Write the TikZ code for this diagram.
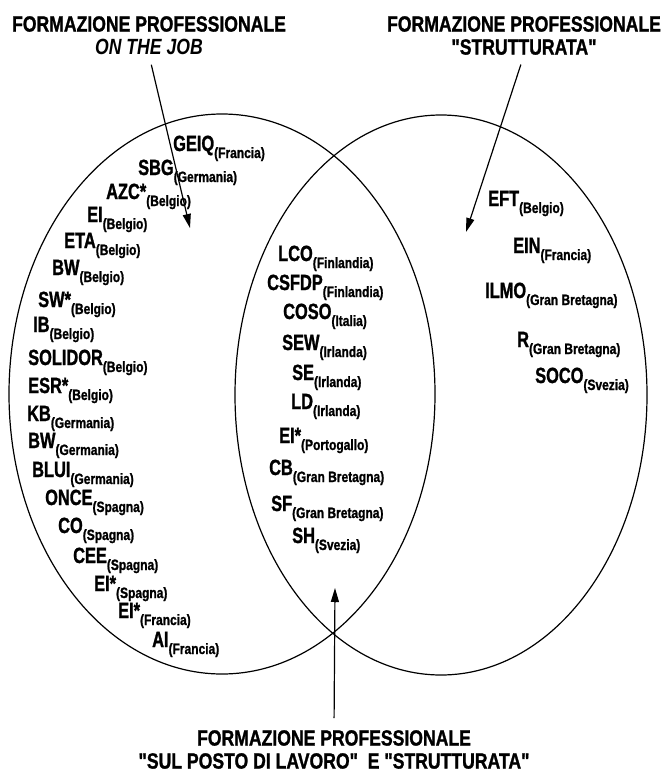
\documentclass[tikz,border=0pt]{standalone}
\usepackage{fontspec}
\setmainfont{Liberation Sans}[FakeStretch=0.8,Ligatures=TeXOff,BoldFeatures={FakeBold=1.2}]
\newfontfamily\orgfont{Liberation Sans}[FakeStretch=0.745,Ligatures=TeXOff,BoldFeatures={FakeBold=1.2}]
\usepackage{tikz}
\usetikzlibrary{arrows.meta}
\tikzset{>={Triangle[length=14pt,width=8pt]}}
\newcommand{\org}[2]{#1\raisebox{-7pt}{\rmfamily\fontsize{15}{15}\selectfont #2}}
\tikzset{
	title/.style={align=center,inner sep=0pt,font=\fontsize{22}{23}\selectfont\bfseries},
	orgname/.style={anchor=base west,inner sep=0pt,font=\orgfont\fontsize{22}{23}\selectfont\bfseries},
	setline/.style={line width=1.2pt},
	pointer/.style={->,line width=1.2pt}
}

\begin{document}
\begin{tikzpicture}[x=1pt,y=-1pt]
            \useasboundingbox (0,0) rectangle (661,773);
            \draw[setline] (222,394) ellipse [x radius=213pt, y radius=280pt];
            \draw[setline] (441,395) ellipse [x radius=206pt, y radius=280pt];
            \node[title,anchor=south] (onjob) at (149,55) {FORMAZIONE PROFESSIONALE\\\textit{ON THE JOB}};
            \node[title,anchor=south] (strutt) at (524,55) {FORMAZIONE PROFESSIONALE\\"STRUTTURATA"};
            \node[title,anchor=north] (both) at (334,730) {FORMAZIONE PROFESSIONALE\\"SUL POSTO DI LAVORO"~~E "STRUTTURATA"};
            \coordinate (tipL) at (190,228);
            \coordinate (tipR) at (466,232);
            \coordinate (tipB) at (335,588);
            \draw[pointer,shorten <=10pt] (onjob.south) -- (tipL);
            \draw[pointer,shorten <=10pt] (strutt.south) -- (tipR);
            \draw[pointer,shorten <=12pt] (both.north) -- (tipB);
            % on the job
            \node[orgname] (geiq) at (173,151) {\org{GEIQ}{(Francia)}};
            \node[orgname] (sbg) at (138,175) {\org{SBG}{(Germania)}};
            \node[orgname] (azc) at (106,199) {\org{AZC*}{(Belgio)}};
            \node[orgname] (eiBE) at (87,222) {\org{EI}{(Belgio)}};
            \node[orgname] (eta) at (64,248) {\org{ETA}{(Belgio)}};
            \node[orgname] (bwBE) at (52,275) {\org{BW}{(Belgio)}};
            \node[orgname] (sw) at (38,307) {\org{SW*}{(Belgio)}};
            \node[orgname] (ib) at (33,332) {\org{IB}{(Belgio)}};
            \node[orgname] (solidor) at (28,365) {\org{SOLIDOR}{(Belgio)}};
            \node[orgname] (esr) at (28,393) {\org{ESR*}{(Belgio)}};
            \node[orgname] (kb) at (27,421) {\org{KB}{(Germania)}};
            \node[orgname] (bwDE) at (28,448) {\org{BW}{(Germania)}};
            \node[orgname] (blui) at (32,477) {\org{BLUI}{(Germania)}};
            \node[orgname] (once) at (45,505) {\org{ONCE}{(Spagna)}};
            \node[orgname] (co) at (58,533) {\org{CO}{(Spagna)}};
            \node[orgname] (cee) at (73,563) {\org{CEE}{(Spagna)}};
            \node[orgname] (eiES) at (94,591) {\org{EI*}{(Spagna)}};
            \node[orgname] (eiFR) at (118,618) {\org{EI*}{(Francia)}};
            \node[orgname] (ai) at (152,647) {\org{AI}{(Francia)}};
            % both
            \node[orgname] (lco) at (278,261) {\org{LCO}{(Finlandia)}};
            \node[orgname] (csfdp) at (267,290) {\org{CSFDP}{(Finlandia)}};
            \node[orgname] (coso) at (283,319) {\org{COSO}{(Italia)}};
            \node[orgname] (sew) at (282,350) {\org{SEW}{(Irlanda)}};
            \node[orgname] (se) at (292,380) {\org{SE}{(Irlanda)}};
            \node[orgname] (ld) at (291,409) {\org{LD}{(Irlanda)}};
            \node[orgname] (eiPT) at (279,443) {\org{EI*}{(Portogallo)}};
            \node[orgname] (cb) at (269,475) {\org{CB}{(Gran Bretagna)}};
            \node[orgname] (sf) at (271,511) {\org{SF}{(Gran Bretagna)}};
            \node[orgname] (sh) at (292,543) {\org{SH}{(Svezia)}};
            % strutturata
            \node[orgname] (eft) at (488,206) {\org{EFT}{(Belgio)}};
            \node[orgname] (ein) at (513,253) {\org{EIN}{(Francia)}};
            \node[orgname] (ilmo) at (485,298) {\org{ILMO}{(Gran Bretagna)}};
            \node[orgname] (rGB) at (517,347) {\org{R}{(Gran Bretagna)}};
            \node[orgname] (soco) at (535,383) {\org{SOCO}{(Svezia)}};
\end{tikzpicture}
\end{document}
